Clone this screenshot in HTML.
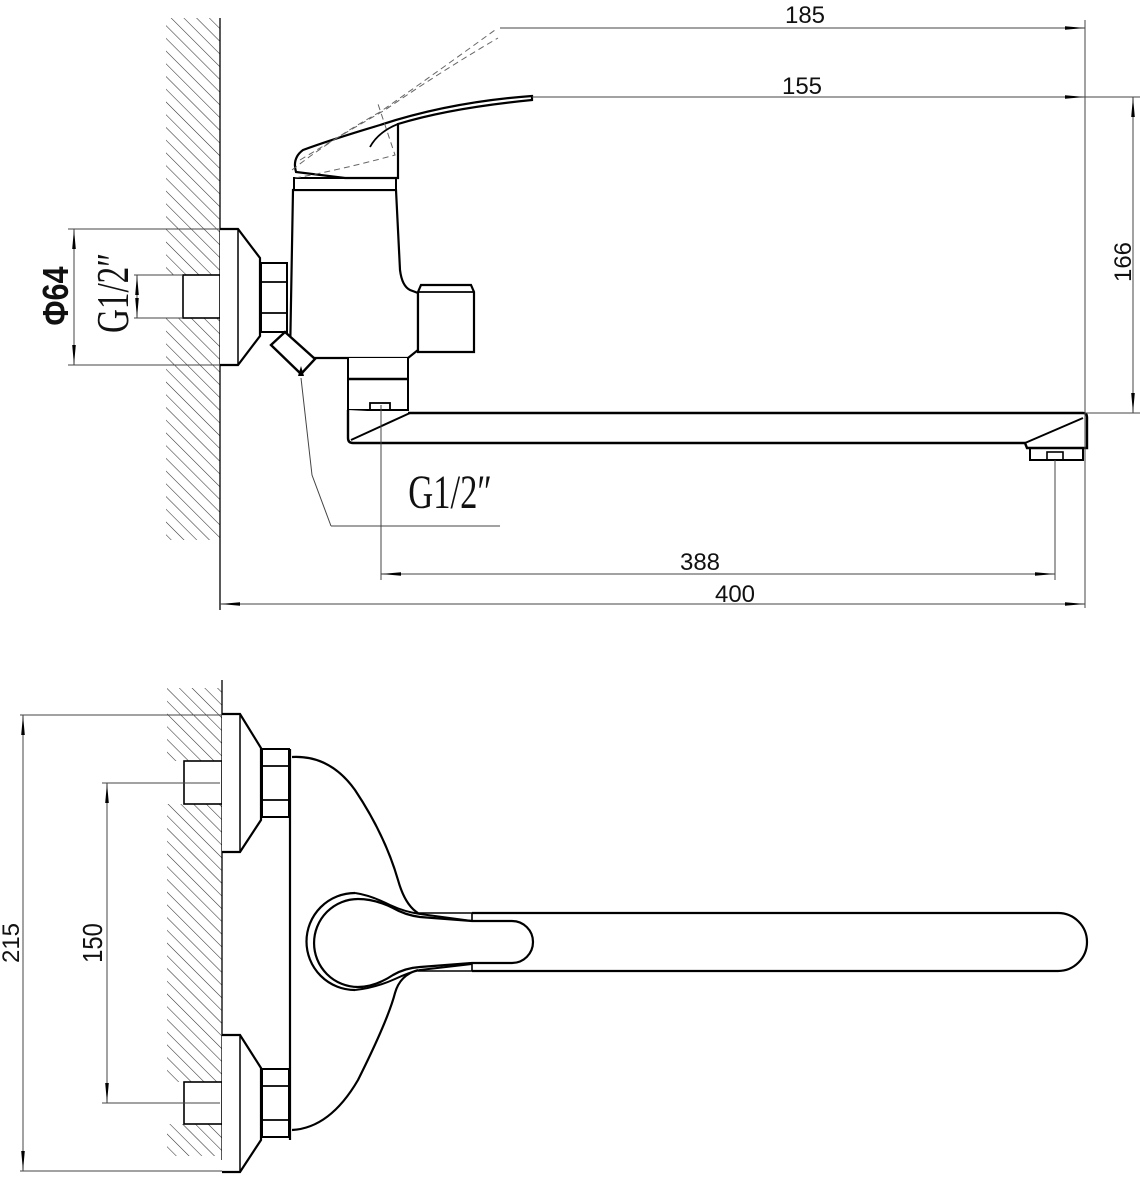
<!DOCTYPE html>
<html><head><meta charset="utf-8"><style>html,body{margin:0;padding:0;background:#fff}svg{display:block}</style></head><body>
<svg width="1140" height="1200" viewBox="0 0 1140 1200" xmlns="http://www.w3.org/2000/svg">
<defs>
<pattern id="h" patternUnits="userSpaceOnUse" width="9" height="9" patternTransform="rotate(-45)">
<line x1="0" y1="0" x2="0" y2="9" stroke="#333" stroke-width="1.1"/>
</pattern>
<marker id="a" viewBox="0 0 20 6" refX="20" refY="3" markerWidth="20" markerHeight="6" markerUnits="userSpaceOnUse" orient="auto-start-reverse"><path d="M0,1.2 L20,3 L0,4.8z" fill="#000"/></marker>
</defs>
<g fill="none" stroke="#000">
<rect x="166" y="18" width="54" height="257" fill="url(#h)" stroke="none"/>
<rect x="166" y="318" width="54" height="222" fill="url(#h)" stroke="none"/>
<line x1="220" y1="18" x2="220" y2="610" stroke-width="1.3"/>
<rect x="183" y="275" width="37" height="43" fill="#fff" stroke-width="1.6"/>
<path d="M220 229 H238 L260 258 V336 L238 365 H220" stroke-width="2.2" fill="#fff"/>
<line x1="238" y1="229" x2="238" y2="365" stroke-width="1.5"/>
<path d="M261 263 H287 V332 H261 Z" stroke-width="2" fill="#fff"/>
<line x1="261" y1="282" x2="287" y2="282" stroke-width="1.8"/>
<line x1="261" y1="313" x2="287" y2="313" stroke-width="1.8"/>
<path d="M293 190 L290 358 H408 L418 350 V293 L410 290 Q402 286 400 270 L396 190 Z" stroke-width="2.2" fill="#fff"/>
<line x1="293" y1="190" x2="396" y2="190" stroke-width="2"/>
<path d="M294 178 H396 V190 H294 Z" stroke-width="2" fill="#fff"/>
<path d="M296 172 Q292 158 303 150 Q330 140 380 125 Q450 102 532 96 V100 Q450 108 398 124 V178 H345 L296 172 Z" stroke-width="2.2" fill="#fff"/>
<path d="M370 147 Q378 132 398 124" stroke-width="1.8"/>
<path d="M292 170 Q330 140 380 112 Q440 70 495 30" stroke-width="1" stroke-dasharray="6,4" stroke="#666"/>
<path d="M300 160 Q350 130 385 110 Q440 72 498 38" stroke-width="1" stroke-dasharray="6,4" stroke="#666"/>
<path d="M295 178 Q340 170 395 155 L378 104" stroke-width="1" stroke-dasharray="6,4" stroke="#666"/>
<path d="M418 292 L421 285 H471 L474 292 V352 H418 Z" stroke-width="2.2" fill="#fff"/>
<line x1="418" y1="292" x2="474" y2="292" stroke-width="1.8"/>
<path d="M271 345 L285 332 L315 359 L301 374 Z" stroke-width="2.4" fill="#fff"/>
<path d="M348 358 V410 H408 V358" stroke-width="2" fill="#fff"/>
<line x1="348" y1="379" x2="408" y2="379" stroke-width="2.6"/>
<rect x="370" y="403" width="20" height="7" stroke-width="1.8"/>
<path d="M348 410 V438 Q348 443 353 443 H1025 L1027 448 H1087 V417 Q1087 413 1083 413 H408" stroke-width="2.4" fill="#fff"/>
<line x1="351" y1="440" x2="410" y2="413" stroke-width="2"/>
<line x1="1025" y1="443" x2="1083" y2="418" stroke-width="2"/>
<rect x="1030" y="448" width="53" height="12" stroke-width="2"/>
<rect x="1047" y="452" width="16" height="8" stroke-width="1.6"/>
<g stroke-width="1" stroke="#444">
<line x1="500" y1="28" x2="1085" y2="28" marker-end="url(#a)"/>
<line x1="1085" y1="20" x2="1085" y2="608"/>
<line x1="532" y1="97" x2="1140" y2="97"/>
<line x1="537" y1="97" x2="1085" y2="97" marker-end="url(#a)"/>
<line x1="1085" y1="413" x2="1140" y2="413"/>
<line x1="1133" y1="97" x2="1133" y2="413" marker-start="url(#a)" marker-end="url(#a)"/>
<line x1="381" y1="405" x2="381" y2="580"/>
<line x1="1055" y1="460" x2="1055" y2="580"/>
<line x1="381" y1="574" x2="1055" y2="574" marker-start="url(#a)" marker-end="url(#a)"/>
<line x1="220" y1="604" x2="1085" y2="604" marker-start="url(#a)" marker-end="url(#a)"/>
<line x1="68" y1="229" x2="220" y2="229"/>
<line x1="68" y1="365" x2="220" y2="365"/>
<line x1="74" y1="229" x2="74" y2="365" marker-start="url(#a)" marker-end="url(#a)"/>
<line x1="134" y1="275" x2="183" y2="275"/>
<line x1="134" y1="318" x2="183" y2="318"/>
<line x1="137" y1="275" x2="137" y2="318" marker-start="url(#a)" marker-end="url(#a)"/>
<path d="M331 526 L312 475 L301 378" />
<line x1="331" y1="526" x2="500" y2="526"/>
</g>
<path d="M298 376 L301 366 L304 376Z" fill="#000" stroke="none"/>

<rect x="167" y="688" width="55" height="73" fill="url(#h)" stroke="none"/>
<rect x="167" y="804" width="55" height="278" fill="url(#h)" stroke="none"/>
<rect x="167" y="1124" width="55" height="32" fill="url(#h)" stroke="none"/>
<line x1="222" y1="680" x2="222" y2="1160" stroke-width="1.3"/>
<rect x="184" y="761" width="38" height="43" fill="#fff" stroke-width="1.6"/>
<rect x="184" y="1082" width="38" height="42" fill="#fff" stroke-width="1.6"/>
<g stroke-width="2.2" fill="#fff">
<path d="M222 714 H240 L261 748 V820 L240 852 H222"/>
<path d="M222 1035 H240 L261 1068 V1140 L240 1172 H222"/>
</g>
<line x1="240" y1="714" x2="240" y2="852" stroke-width="1.5"/>
<line x1="240" y1="1035" x2="240" y2="1172" stroke-width="1.5"/>
<g stroke-width="2" fill="#fff">
<path d="M262 749 H289 V817 H262Z"/>
<path d="M262 1069 H289 V1137 H262Z"/>
</g>
<g stroke-width="1.8">
<line x1="262" y1="766" x2="289" y2="766"/><line x1="262" y1="800" x2="289" y2="800"/>
<line x1="262" y1="1086" x2="289" y2="1086"/><line x1="262" y1="1120" x2="289" y2="1120"/>
</g>
<line x1="290" y1="749" x2="290" y2="1140" stroke-width="2.2"/>
<path d="M292 757 Q330 755 355 790 Q385 835 398 880 Q405 905 418 913" stroke-width="2.2"/>
<path d="M292 1130 Q330 1128 358 1080 Q388 1020 395 993 Q400 975 418 970" stroke-width="2.2"/>
<path d="M472 913 H1058 A29 29 0 0 1 1058 971 H472" stroke-width="2.2" fill="#fff"/>
<path d="M418 913 H472 V971 H418" stroke-width="1.6"/>
<path d="M355 893 Q370 895 390 905 Q405 912 420 914 L472 921" stroke-width="2"/>
<path d="M355 990 Q375 988 395 979 Q410 972 420 970 L472 964" stroke-width="2"/>
<path d="M355 893 A48 48 0 1 0 355 990" stroke-width="2.2"/>
<path d="M472 921 H512 A21 21 0 0 1 512 963 H472 L420 967 Q405 968 393 975 Q375 987 358 987 A39 39 0 0 1 358 899 Q375 899 393 908 Q405 915 420 917 Z" stroke-width="2.2" fill="#fff"/>
<g stroke-width="1" stroke="#444">
<line x1="20" y1="715" x2="222" y2="715"/>
<line x1="20" y1="1171" x2="222" y2="1171"/>
<line x1="23" y1="715" x2="23" y2="1171" marker-start="url(#a)" marker-end="url(#a)"/>
<line x1="102" y1="783" x2="220" y2="783"/>
<line x1="102" y1="1103" x2="220" y2="1103"/>
<line x1="107" y1="783" x2="107" y2="1103" marker-start="url(#a)" marker-end="url(#a)"/>
</g>
</g>
<g font-family="Liberation Sans, sans-serif" font-size="24" fill="#111" text-anchor="middle">
<text x="805" y="23">185</text>
<text x="802" y="94">155</text>
<text x="700" y="570">388</text>
<text x="735" y="602">400</text>
<text transform="translate(1131,262) rotate(-90)">166</text>
<text transform="translate(19,943) rotate(-90)">215</text>
<text transform="translate(102,943) rotate(-90) scale(0.85,1)" font-size="28">150</text>
<text transform="translate(68,296) rotate(-90) scale(0.85,1)" font-size="36" font-weight="bold">Φ64</text>
</g>
<g font-family="Liberation Serif, serif" fill="#111" text-anchor="middle">
<text transform="translate(128,293) rotate(-90) scale(0.72,1)" font-size="46">G1/2″</text>
<text transform="translate(450,508) scale(0.72,1)" font-size="48">G1/2″</text>
</g>
</svg>
</body></html>
